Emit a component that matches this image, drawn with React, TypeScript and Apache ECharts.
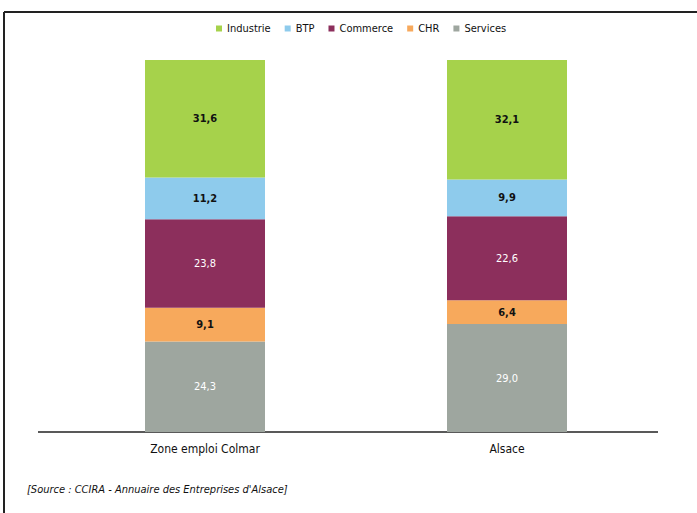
import React, { useEffect, useRef } from "react";
import * as echarts from "echarts";

const categories = ["Zone emploi Colmar", "Alsace"];
const seriesNames = ["Services", "CHR", "Commerce", "BTP", "Industrie"];
const services = [24.3, 29.0];
const chr = [9.1, 6.4];
const commerce = [23.8, 22.6];
const btp = [11.2, 9.9];
const industrie = [31.6, 32.1];
const legendOrder = ["Industrie", "BTP", "Commerce", "CHR", "Services"];
const sourceText = "[Source : CCIRA - Annuaire des Entreprises d'Alsace]";

const FONT = "'Liberation Sans Narrow', 'Arial Narrow', 'DejaVu Sans Condensed', 'Liberation Sans', Arial, sans-serif";

export default function App() {
  const ref = useRef<HTMLDivElement>(null);
  useEffect(() => {
    if (!ref.current) return;
    const chart = echarts.init(ref.current, null, { renderer: "svg" });
    const values = [services, chr, commerce, btp, industrie];
    const colors = ["#9ea69f", "#f7a95c", "#8c2f5c", "#8ecbec", "#a6d24b"];
    const labelColors = ["#ffffff", "#111111", "#ffffff", "#111111", "#111111"];
    const labelWeights = ["normal", "bold", "normal", "bold", "bold"];
    const fmt = (p: any) => Number(p.value).toFixed(1).replace(".", ",");
    chart.setOption({
      animation: false,
      backgroundColor: "#ffffff",
      legend: {
        data: legendOrder,
        top: 18,
        left: 211,
        itemWidth: 6,
        itemHeight: 6,
        itemGap: 14,
        icon: "rect",
        textStyle: { fontFamily: FONT, fontSize: 11, color: "#111" },
      },
      grid: { left: 54, right: 39, top: 60, bottom: 81 },
      xAxis: {
        type: "category",
        data: categories,
        axisLine: { show: false },
        axisTick: { show: false },
        axisLabel: { fontFamily: FONT, fontSize: 12, color: "#111", margin: 11 },
      },
      yAxis: { type: "value", min: 0, max: 100, show: false },
      series: seriesNames.map((n, i) => ({
        name: n,
        type: "bar",
        stack: "total",
        barWidth: 120,
        data: values[i],
        itemStyle: { color: colors[i] },
        label: {
          show: true,
          position: "inside",
          formatter: fmt,
          color: labelColors[i],
          fontWeight: labelWeights[i],
          fontFamily: FONT,
          fontSize: 11,
        },
      })),
      graphic: [
        { type: "line", shape: { x1: 38, y1: 432, x2: 658, y2: 432 }, style: { stroke: "#222", lineWidth: 1.5 } },
        { type: "line", shape: { x1: 4, y1: 12, x2: 697, y2: 12 }, style: { stroke: "#222", lineWidth: 2 } },
        { type: "line", shape: { x1: 4, y1: 12, x2: 4, y2: 513 }, style: { stroke: "#222", lineWidth: 2 } },
        {
          type: "text",
          left: 27,
          top: 484,
          style: { text: sourceText, font: `italic 11px ${FONT}`, fill: "#111" },
        },
      ],
    });
    return () => chart.dispose();
  }, []);
  return <div ref={ref} style={{ position: "fixed", left: 0, top: 0, width: 697, height: 513 }} />;
}
